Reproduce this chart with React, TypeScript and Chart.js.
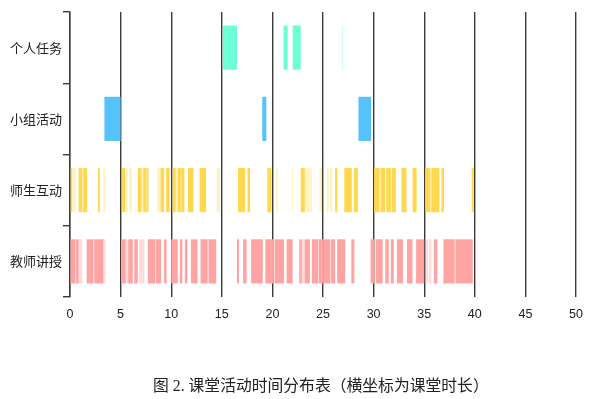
import React, { useEffect, useRef } from "react";
import { Chart, registerables } from "chart.js";

Chart.register(...registerables);

const categories = ["个人任务", "小组活动", "师生互动", "教师讲授"];
const xTicksMax = 50;
const xStep = 5;

// [start, end] in minutes
const personalStrong: [number, number][] = [[15.1, 16.5], [21.1, 21.5], [22.0, 22.8]];
const personalLight: [number, number][] = [[26.85, 27.0]];

const groupStrong: [number, number][] = [[3.4, 5.0], [19.0, 19.4], [28.5, 29.75]];
const groupLight: [number, number][] = [];

const interactStrong: [number, number][] = [
  [0.0, 0.2], [0.85, 1.2], [1.3, 1.7], [2.75, 2.95], [5.15, 5.45], [6.7, 7.05], [7.25, 7.5], [7.55, 7.75],
  [8.95, 9.3], [9.5, 9.85], [10.15, 10.45], [10.65, 10.95], [11.0, 11.3], [11.65, 12.2],
  [12.8, 13.45], [16.6, 17.3], [17.55, 17.8], [19.5, 19.9], [22.8, 23.2], [26.2, 26.4],
  [27.1, 27.85], [28.05, 28.45], [30.05, 30.6], [30.7, 31.15], [31.25, 31.7], [31.8, 32.2], [32.75, 33.25],
  [33.85, 34.25], [35.1, 35.6], [35.7, 36.5], [36.7, 36.95], [39.7, 39.9],
];
const interactLight: [number, number][] = [
  [0.2, 0.55], [1.2, 1.3], [3.3, 3.5], [5.45, 5.7], [5.85, 6.1], [7.05, 7.25], [7.5, 7.55], [8.6, 8.95],
  [10.45, 10.65], [14.5, 14.8], [20.35, 20.55], [21.95, 22.05], [23.2, 23.4],
  [23.45, 23.65], [23.7, 23.9], [24.65, 24.9], [25.35, 25.55], [25.7, 25.9],
  [30.6, 30.7], [31.7, 31.8], [35.6, 35.7],
];

const lectureStrong: [number, number][] = [
  [0.05, 0.5], [0.6, 0.85], [1.65, 2.3], [2.4, 3.3], [5.05, 5.5], [5.75, 6.2], [6.35, 6.7], [7.7, 8.4], [8.5, 9.0],
  [9.3, 9.55], [10.0, 10.65], [10.85, 11.1], [11.35, 11.6], [11.95, 12.6], [12.9, 13.6], [13.7, 14.45],
  [16.5, 16.7], [17.1, 17.45], [17.9, 19.05], [19.3, 20.1], [20.25, 21.15], [21.4, 22.0], [22.65, 22.9],
  [23.2, 23.7], [23.9, 24.5], [24.6, 25.0], [25.1, 25.7], [25.8, 26.2], [26.4, 27.2], [27.8, 28.1], [29.7, 30.05],
  [30.2, 30.9], [31.15, 31.5], [31.7, 32.0], [32.3, 32.9], [33.3, 33.85], [34.2, 35.0],
  [35.95, 36.3], [36.9, 38.0], [38.1, 39.8],
];
const lectureLight: [number, number][] = [
  [0.5, 0.6], [0.85, 1.2], [2.3, 2.4], [3.3, 3.5], [5.5, 5.75], [6.85, 7.35], [8.4, 8.5], [13.6, 13.7],
  [20.1, 20.25], [22.9, 23.2], [24.5, 24.6], [25.7, 25.8], [35.2, 35.4], [35.5, 35.7], [38.0, 38.1],
];

const caption = "图 2. 课堂活动时间分布表（横坐标为课堂时长）";

const toPoints = (cat: string, segs: [number, number][]) =>
  segs.map((s) => ({ y: cat, x: [s[0], s[1]] }));

export default function App() {
  const ref = useRef<HTMLCanvasElement>(null);

  useEffect(() => {
    document.body.style.margin = "0";
    if (!ref.current) return;
    const mk = (cat: string, segs: [number, number][], color: string) => ({
      data: toPoints(cat, segs) as any,
      backgroundColor: color,
      borderWidth: 0,
      grouped: false,
      categoryPercentage: 0.62,
      barPercentage: 1,
    });
    const chart = new Chart(ref.current, {
      type: "bar",
      data: {
        labels: categories,
        datasets: [
          mk(categories[0], personalStrong, "#6EFFD4"),
          mk(categories[0], personalLight, "rgba(110,255,212,0.3)"),
          mk(categories[1], groupStrong, "#55C3FA"),
          mk(categories[1], groupLight, "rgba(85,195,250,0.35)"),
          mk(categories[2], interactStrong, "#FFD84D"),
          mk(categories[2], interactLight, "rgba(255,216,77,0.35)"),
          mk(categories[3], lectureStrong, "#FFA3A3"),
          mk(categories[3], lectureLight, "rgba(255,163,163,0.4)"),
        ] as any,
      },
      options: {
        indexAxis: "y",
        animation: false,
        responsive: false,
        layout: { padding: { top: 12, right: 24, left: 0, bottom: 0 } },
        plugins: { legend: { display: false }, tooltip: { enabled: false } },
        scales: {
          x: {
            type: "linear",
            min: 0,
            max: xTicksMax,
            z: 1,
            ticks: {
              stepSize: xStep,
              padding: 10,
              color: "#222",
              font: { family: "'Liberation Sans', sans-serif", size: 12.5 },
            },
            grid: { color: "#3a3a3a", lineWidth: 1.4, drawTicks: false },
            border: { display: false },
            afterFit: (s: any) => { s.height = 102; },
          },
          y: {
            type: "category",
            z: 1,
            ticks: {
              padding: 1,
              color: "#222",
              font: { family: "'Noto Sans CJK SC', sans-serif", size: 13 },
            },
            grid: { drawOnChartArea: false, drawTicks: true, tickLength: 7, color: "#3a3a3a", lineWidth: 1.4, offset: true },
            border: { display: true, color: "#3a3a3a", width: 1.4 },
            afterFit: (s: any) => { s.width = 70; },
          },
        },
      },
    });
    return () => chart.destroy();
  }, []);

  return (
    <div style={{ position: "relative", width: 600, height: 399 }}>
      <canvas ref={ref} width={600} height={399} style={{ display: "block" }} />
      <div
        style={{
          position: "absolute",
          left: 153,
          top: 373,
          fontSize: "15.8px",
          color: "#222",
          fontFamily: "'Liberation Serif', 'Noto Sans CJK SC', serif",
          whiteSpace: "nowrap",
        }}
      >
        {caption}
      </div>
    </div>
  );
}
